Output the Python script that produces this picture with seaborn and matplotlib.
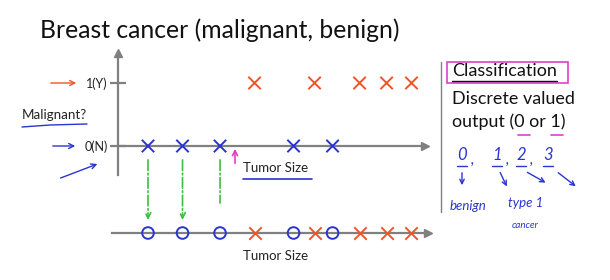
import matplotlib
matplotlib.use("Agg")
import matplotlib.pyplot as plt
from matplotlib.patches import ConnectionPatch, Rectangle, FancyArrowPatch
from matplotlib.lines import Line2D
import seaborn as sns
import pandas as pd

# ---------------- data ----------------
title = "Breast cancer (malignant, benign)"
benign_size = [1.0, 2.15, 3.4, 5.85, 7.15]
malignant_size = [4.55, 6.55, 8.05, 8.95, 9.78]
y_ticks = [0, 1]
y_tick_labels = ["0(N)", "1(Y)"]
x_label = "Tumor Size"
y_label = "Malignant?"
side_title = "Classification"
side_lines = ["Discrete valued", "output (0 or 1)"]
hand_digits = ["0", "1", "2", "3"]
hand_words = ["benign", "type 1", "cancer"]

sns.set_theme(style="white")
plt.rcParams["font.family"] = ["Lato", "DejaVu Sans"]

GRAY = "#808080"
BLUE = "#2a35d0"
RED = "#ee5528"
GREEN = "#3cbf3c"
MAGENTA = "#e23fc8"

df = pd.DataFrame({
    "size": benign_size + malignant_size,
    "malignant": [0] * len(benign_size) + [1] * len(malignant_size),
    "diagnosis": ["benign"] * len(benign_size) + ["malignant"] * len(malignant_size),
})

W, H = 610, 280
fig = plt.figure(figsize=(W / 100, H / 100), dpi=100)
fig.patch.set_facecolor("white")


def fx(x):
    return x / W


def fy(y):
    return 1 - y / H


def rect(l, t, r, b):
    return [fx(l), fy(b), fx(r) - fx(l), fy(t) - fy(b)]


def ftext(x, y, s, **kw):
    kw.setdefault("va", "center")
    kw.setdefault("ha", "left")
    fig.text(fx(x), fy(y), s, **kw)


def farrow(p0, p1, color, lw=1.0, style="->", ms=9, ls="-"):
    fig.add_artist(FancyArrowPatch((fx(p0[0]), fy(p0[1])), (fx(p1[0]), fy(p1[1])),
                                   transform=fig.transFigure, arrowstyle=style,
                                   mutation_scale=ms, color=color, lw=lw, linestyle=ls))


def fline(xs, ys, color, lw=1.0):
    fig.add_artist(Line2D([fx(x) for x in xs], [fy(y) for y in ys],
                          transform=fig.transFigure, color=color, lw=lw))


# ---------------- upper axes ----------------
ax = fig.add_axes(rect(118, 53, 425, 175))
ax.set_facecolor("none")
sns.scatterplot(data=df, x="size", y="malignant", hue="diagnosis",
                palette={"benign": BLUE, "malignant": RED}, marker="x",
                s=80, linewidth=1.4, legend=False, ax=ax, clip_on=False, zorder=5)
ax.set_xlim(0, 10.23)
ax.set_ylim(-0.46, 1.476)
for side in ["top", "right"]:
    ax.spines[side].set_visible(False)
ax.spines["left"].set_position(("data", 0))
ax.spines["bottom"].set_position(("data", 0))
for side in ["left", "bottom"]:
    ax.spines[side].set_color(GRAY)
    ax.spines[side].set_linewidth(1.6)
ax.plot(1, 0, ">", color=GRAY, ms=6, transform=ax.get_yaxis_transform(), clip_on=False)
ax.plot(0, 1, "^", color=GRAY, ms=6, transform=ax.get_xaxis_transform(), clip_on=False)
ax.set_xticks([])
ax.set_yticks(y_ticks)
ax.set_yticklabels(y_tick_labels)
ax.tick_params(axis="y", direction="inout", length=11, width=1.6, color=GRAY,
               labelsize=9, pad=2, labelcolor="#222222", left=True)
ax.set_xlabel("")
ax.set_ylabel("")

# ---------------- lower axes ----------------
ax2 = fig.add_axes(rect(112, 223, 428, 243))
ax2.set_facecolor("none")
low_b = df[df["diagnosis"] == "benign"].assign(level=0)
low_m = df[df["diagnosis"] == "malignant"].assign(level=0)
sns.scatterplot(data=low_b, x="size", y="level", marker="o", s=70,
                facecolor="none", edgecolor=BLUE, linewidth=1.4,
                legend=False, ax=ax2, clip_on=False, zorder=5)
sns.scatterplot(data=low_m, x="size", y="level", color=RED, marker="x", s=80,
                linewidth=1.4, legend=False, ax=ax2, clip_on=False, zorder=5)
ax2.set_xlim(-0.2, 10.33)
ax2.set_ylim(-1, 1)
for side in ["top", "right", "left"]:
    ax2.spines[side].set_visible(False)
ax2.spines["bottom"].set_position(("data", 0))
ax2.spines["bottom"].set_color(GRAY)
ax2.spines["bottom"].set_linewidth(1.6)
ax2.plot(1, 0, ">", color=GRAY, ms=6, transform=ax2.get_yaxis_transform(), clip_on=False)
ax2.set_xticks([])
ax2.set_yticks([])
ax2.set_xlabel("")
ax2.set_ylabel("")

# green projection arrows
for i, xv in enumerate(benign_size[:3]):
    end = 1.3 if i < 2 else 3.0
    cp = ConnectionPatch(xyA=(xv, -0.22), coordsA=ax.transData,
                         xyB=(xv, end), coordsB=ax2.transData,
                         arrowstyle="->" if i < 2 else "-", mutation_scale=10,
                         color=GREEN, lw=1.2, linestyle="-.")
    fig.add_artist(cp)

# ---------------- text ----------------
ftext(40, 30, title, fontsize=17.8, color="#111111")
ftext(22, 115, y_label, fontsize=9.6, color="#222222")
fline([22, 50, 87], [127, 125, 124], BLUE, lw=1.0)
farrow((48, 83), (79, 83), RED, lw=1.0)
farrow((50, 146), (78, 146), BLUE, lw=1.0)
farrow((58, 179), (100, 163), BLUE, lw=1.0)
farrow((235, 166), (235, 146), MAGENTA, lw=1.2)
ftext(243, 168, x_label, fontsize=9.5, color="#222222")
fline([243, 312], [179, 179], BLUE, lw=1.2)
ftext(243, 256, x_label, fontsize=9.5, color="#222222")

# right panel
fline([441, 441], [62, 212], GRAY, lw=1.0)
fig.add_artist(Rectangle((fx(447), fy(83)), fx(568) - fx(447), fy(62) - fy(83),
                         transform=fig.transFigure, fill=False, edgecolor=MAGENTA, lw=1.2))
ftext(452, 71, side_title, fontsize=13, color="#111111")
fline([452, 557], [81, 81], "#111111", lw=1.0)
ftext(452, 99, side_lines[0], fontsize=12.9, color="#111111")
ftext(452, 122, side_lines[1], fontsize=12.9, color="#111111")
fline([518, 530], [135, 135], MAGENTA, lw=1.2)
fline([551, 563], [135, 135], MAGENTA, lw=1.2)

digit_x = [462, 497, 521, 548]
for i, (d, xv) in enumerate(zip(hand_digits, digit_x)):
    ftext(xv, 155, d, fontsize=12, color=BLUE, ha="center", style="italic")
    fline([xv - 5, xv + 5], [166, 166], BLUE, lw=1.0)
    if i < 3:
        ftext(xv + 10, 160, ",", fontsize=11, color=BLUE, ha="center", style="italic")
farrow((462, 170), (462, 188), BLUE, lw=1.0, ms=8)
farrow((499, 170), (508, 189), BLUE, lw=1.0, ms=8)
farrow((525, 171), (548, 184), BLUE, lw=1.0, ms=8)
farrow((556, 171), (578, 188), BLUE, lw=1.0, ms=8)
ftext(450, 206, hand_words[0], fontsize=9.5, color=BLUE, style="italic")
ftext(508, 203, hand_words[1], fontsize=9.5, color=BLUE, style="italic")
ftext(512, 225, hand_words[2], fontsize=7, color=BLUE, style="italic")

fig.savefig("out.png", dpi=100, facecolor="white")
